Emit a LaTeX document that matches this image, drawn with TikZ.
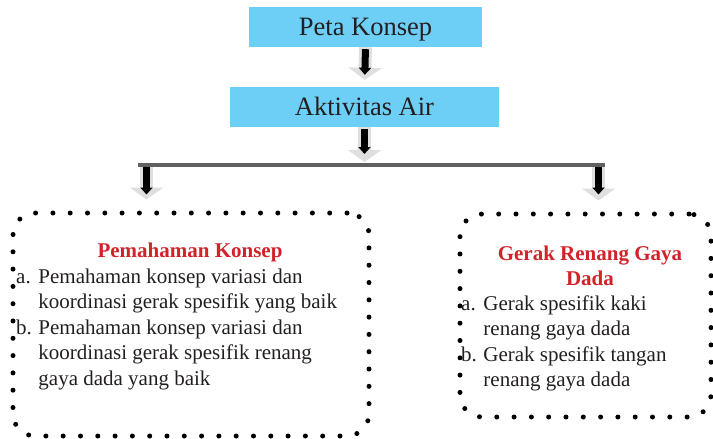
\documentclass[tikz,border=0pt]{standalone}
\usepackage{fontspec}
\setmainfont{Liberation Serif}
\usetikzlibrary{arrows.meta,positioning,calc}
\definecolor{skyblue}{HTML}{6DCFF6}
\definecolor{inktext}{HTML}{231F20}
\definecolor{titlered}{HTML}{D2232A}
\tikzset{
  headbox/.style={fill=skyblue, minimum height=40pt, inner sep=0pt, text=inktext,
    font=\fontsize{26.5}{30}\selectfont, text height=17.5pt, text depth=0pt},
  dotbox/.style={draw=black, line width=5pt, dash pattern=on 0pt off 17.3pt,
    line cap=round, rounded corners=22pt, inner sep=0pt},
  titletext/.style={font=\bfseries\fontsize{21}{25.5}\selectfont, text=titlered, inner sep=0pt},
  listtext/.style={font=\fontsize{21}{25.5}\selectfont, text=inktext, inner sep=0pt},
  shadowarrow/.style={line width=13pt, draw=gray!25, -{Triangle[width=33pt,length=12pt]}},
  innerarrow/.style={line width=7pt, draw=black, -{Triangle[width=12pt,length=7pt]}},
  splitbar/.style={line width=4pt, draw=gray!75!black}
}

\begin{document}
\begin{tikzpicture}[x=1pt, y=-1pt]
    \useasboundingbox (0,0) rectangle (713,439);
    \node[headbox, minimum width=233pt] (peta) at (365.5,27) {Peta Konsep};
    \node[headbox, minimum width=269pt] (aktiv) at (364.5,107) {Aktivitas Air};
    \coordinate (barW) at (138,165);
    \coordinate (barE) at (605,165);
    \coordinate (splitL) at (146.5,165);
    \coordinate (splitR) at (598.5,165);
    \node[dotbox, minimum width=356pt, minimum height=223pt] (konsep) at (191,324.5) {};
    \node[dotbox, minimum width=251pt, minimum height=203pt] (gerak) at (585.5,315.5) {};
    % teks di dalam kotak
    \node[titletext, anchor=base] (konsepTitle) at (190,257) {Pemahaman Konsep};
    \node[listtext, anchor=base west] (konsepList) at (16,283) {%
      \begin{tabular}[t]{@{}l@{\hspace{6.5pt}}l@{}}
        a. & Pemahaman konsep variasi dan\\
           & koordinasi gerak spesifik yang baik\\
        b. & Pemahaman konsep variasi dan\\
           & koordinasi gerak spesifik renang\\
           & gaya dada yang baik
      \end{tabular}};
    \node[titletext, anchor=base] (gerakTitle) at (590,260) {%
      \begin{tabular}[t]{@{}c@{}}Gerak Renang Gaya\\ Dada\end{tabular}};
    \node[listtext, anchor=base west] (gerakList) at (461,310) {%
      \begin{tabular}[t]{@{}l@{\hspace{6.5pt}}l@{}}
        a. & Gerak spesifik kaki\\
           & renang gaya dada\\
        b. & Gerak spesifik tangan\\
           & renang gaya dada
      \end{tabular}};
    % panah
    \foreach \a/\b/\g/\h in {peta.south/aktiv.north/7pt/12pt,
        aktiv.south/aktiv.south |- barW/3pt/11pt,
        splitL/splitL |- konsep.north/11pt/16pt,
        splitR/splitR |- gerak.north/11pt/17pt} {
      \draw[shadowarrow, shorten >=\g] (\a) -- (\b);
      \draw[innerarrow, shorten <=2pt, shorten >=\h] (\a) -- (\b);
    }
    \draw[splitbar] (barW) -- (barE);
  \end{tikzpicture}
\end{document}
